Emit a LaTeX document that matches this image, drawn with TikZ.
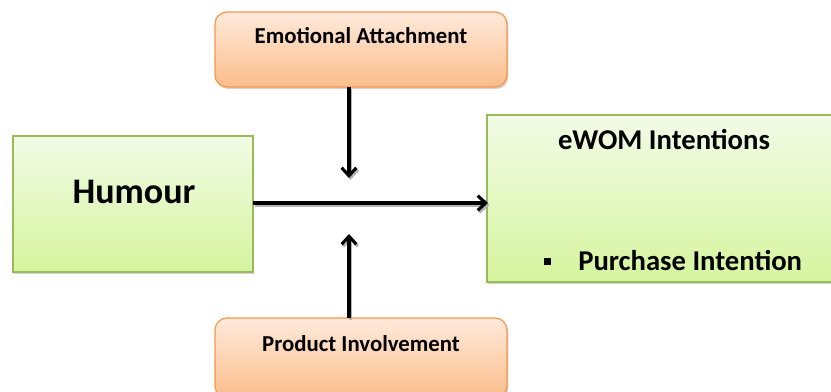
\documentclass[tikz,border=0pt]{standalone}
\usepackage{fontspec}
\setmainfont{Carlito}
\usetikzlibrary{arrows.meta,shadows}
\definecolor{orbord}{HTML}{F79646}
\definecolor{ortop}{HTML}{FEEADB}
\definecolor{orbot}{HTML}{FBBD8B}
\definecolor{grbord}{HTML}{9BBB59}
\definecolor{grtop}{HTML}{F2FBE6}
\definecolor{grbot}{HTML}{D5F59E}
\tikzset{
  orbox/.style={draw=orbord, line width=0.9pt, rounded corners=9pt, top color=ortop, bottom color=orbot,
    drop shadow={shadow xshift=1pt, shadow yshift=-1.5pt, opacity=0.35}},
  grbox/.style={draw=grbord, line width=0.9pt, top color=grtop, bottom color=grbot,
    drop shadow={shadow xshift=1pt, shadow yshift=-1.5pt, opacity=0.35}},
  arr/.style={line width=2.3pt, -{Straight Barb[length=6pt,width=11pt,line width=2.3pt]}},
  shad/.style={line width=2.3pt, gray!60, -{Straight Barb[length=6pt,width=11pt,line width=2.3pt]}},
  lbl/.style={font=\bfseries, inner sep=0pt, anchor=base}
}
\begin{document}
\begin{tikzpicture}[x=0.75pt,y=-0.75pt]
\useasboundingbox (0,0) rectangle (831,392);
\clip (0,0) rectangle (831,392);
% boxes
\path[orbox] (215,12) rectangle (507,87);
\node (ea) at (361,49.5) {};
\path[grbox] (13,136) rectangle (253,272);
\node (hu) at (133,204) {};
\path[grbox] (487,115) rectangle (840,282);
\node (ew) at (663,198) {};
\path[orbox] (215,318) rectangle (507,398);
\node (pi) at (361,355) {};
% coordinates
\coordinate (eaB) at (349,87);
\coordinate (eaT) at (349,178);
\coordinate (piT) at (349,318);
\coordinate (piH) at (349,234);
\coordinate (huR) at (253,203);
\coordinate (ewL) at (488,203);
% arrow shadows
\draw[shad] ([shift={(1.5,2)}]eaB) -- ([shift={(1.5,2)}]eaT);
\draw[shad] ([shift={(1.5,2)}]piT) -- ([shift={(1.5,2)}]piH);
\draw[shad] ([shift={(1.5,2)}]huR) -- ([shift={(1.5,2)}]ewL);
% arrows
\draw[arr] (eaB) -- (eaT);
\draw[arr] (piT) -- (piH);
\draw[arr] (huR) -- (ewL);
% texts
\node[lbl, font=\bfseries\fontsize{17.1pt}{19pt}\selectfont] (eat) at (361,44) {Emotional Attachment};
\node[lbl, font=\bfseries\fontsize{17.1pt}{19pt}\selectfont] (pit) at (361,351) {Product Involvement};
\node[lbl, font=\bfseries\fontsize{27pt}{31pt}\selectfont] (hut) at (134,203) {Humour};
\node[lbl, font=\bfseries\fontsize{21.5pt}{24pt}\selectfont] (ewt) at (664,150) {eWOM Intentions};
\node[lbl, font=\bfseries\fontsize{21.5pt}{24pt}\selectfont, anchor=base west] (pct) at (578,270) {Purchase Intention};
\fill (543.5,258) rectangle (550.5,265);
\end{tikzpicture}
\end{document}
